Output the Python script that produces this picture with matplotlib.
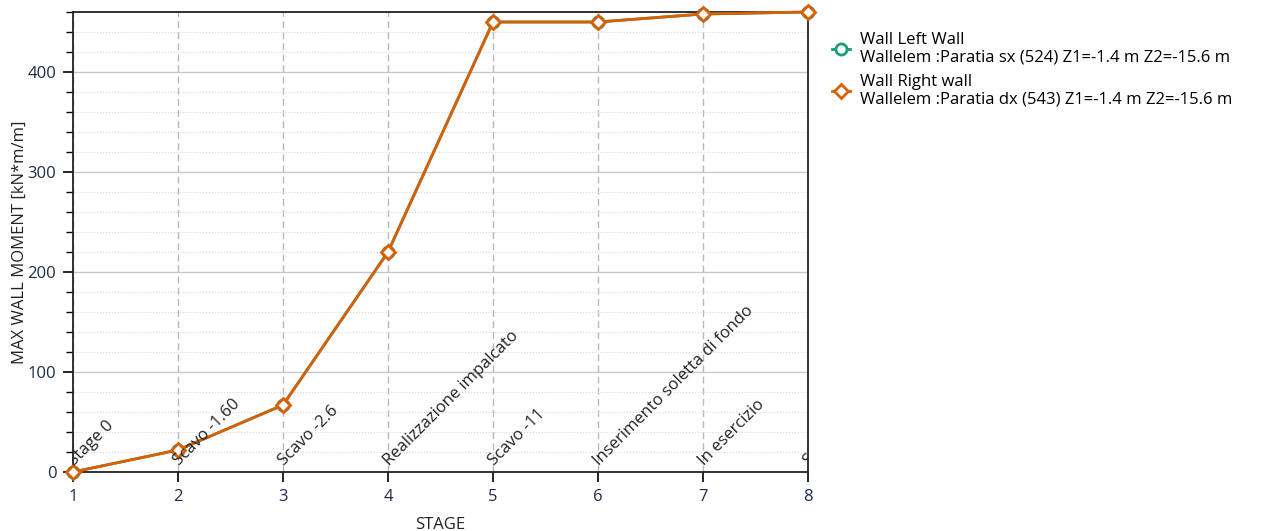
import numpy as np
from matplotlib import pyplot as plt
from matplotlib.ticker import MultipleLocator

plt.rcParams['font.family'] = ['Open Sans', 'DejaVu Sans']

stages = [1, 2, 3, 4, 5, 6, 7, 8]
stage_names = ['Stage 0', 'Scavo -1.60', 'Scavo -2.6', 'Realizzazione impalcato',
               'Scavo -11', 'Inserimento soletta di fondo', 'In esercizio', 'Stage 7']
m_left = [0, 22, 67, 220, 450, 450, 458, 460]
m_right = [0, 22, 67, 220, 450, 450, 458, 460]

lbl_left = 'Wall Left Wall\nWallelem :Paratia sx (524) Z1=-1.4 m Z2=-15.6 m'
lbl_right = 'Wall Right wall\nWallelem :Paratia dx (543) Z1=-1.4 m Z2=-15.6 m'

fs = 12

fig = plt.figure(figsize=(12.64, 5.31), dpi=100)
ax = fig.add_axes([73 / 1264, 59 / 531, 735 / 1264, 460 / 531])

ax.plot(stages, m_left, color='#1b9e77', lw=2, marker='o', ms=8,
        mfc='white', mec='#1b9e77', mew=2, label=lbl_left, zorder=3, clip_on=False)
ax.plot(stages, m_right, color='#d95f02', lw=2, marker='D', ms=7.5,
        mfc='white', mec='#d95f02', mew=2, label=lbl_right, zorder=4, clip_on=False)

ax.set_xlim(1, 8)
ax.set_ylim(0, 460)
ax.xaxis.set_major_locator(MultipleLocator(1))
ax.yaxis.set_major_locator(MultipleLocator(100))
ax.yaxis.set_minor_locator(MultipleLocator(20))

ax.grid(axis='y', which='major', color='#c8c8c8', lw=1, ls='-')
ax.grid(axis='y', which='minor', color='#d8d8d8', lw=0.8, ls=':')
ax.grid(axis='x', which='major', color='#b8b8b8', lw=1, ls=(0, (5, 3)))
ax.set_axisbelow(True)

tick_col = '#1c2b4a'
ax.tick_params(axis='both', which='major', length=7, width=1.2, labelsize=fs,
               labelcolor=tick_col, pad=5)
ax.tick_params(axis='y', which='minor', length=5, width=1)
for s in ax.spines.values():
    s.set_linewidth(1.3)
    s.set_color('#222222')

# stage names along the bottom
for x, name in zip(stages, stage_names):
    ax.text(x - 0.02, 9, name, rotation=45, rotation_mode='anchor',
            ha='left', va='center', fontsize=fs, color='#222222',
            clip_on=True, zorder=5)

ax.set_xlabel('STAGE', fontsize=fs, color='#222222', labelpad=9)
ax.set_ylabel('MAX WALL MOMENT [kN*m/m]', fontsize=fs, color='#222222', labelpad=0)

ax.legend(loc='upper left', bbox_to_anchor=(1.012, 0.99), frameon=False,
          fontsize=fs, handlelength=1.1, handletextpad=0.6, labelspacing=0.45)

fig.savefig('out.png', dpi=100)
